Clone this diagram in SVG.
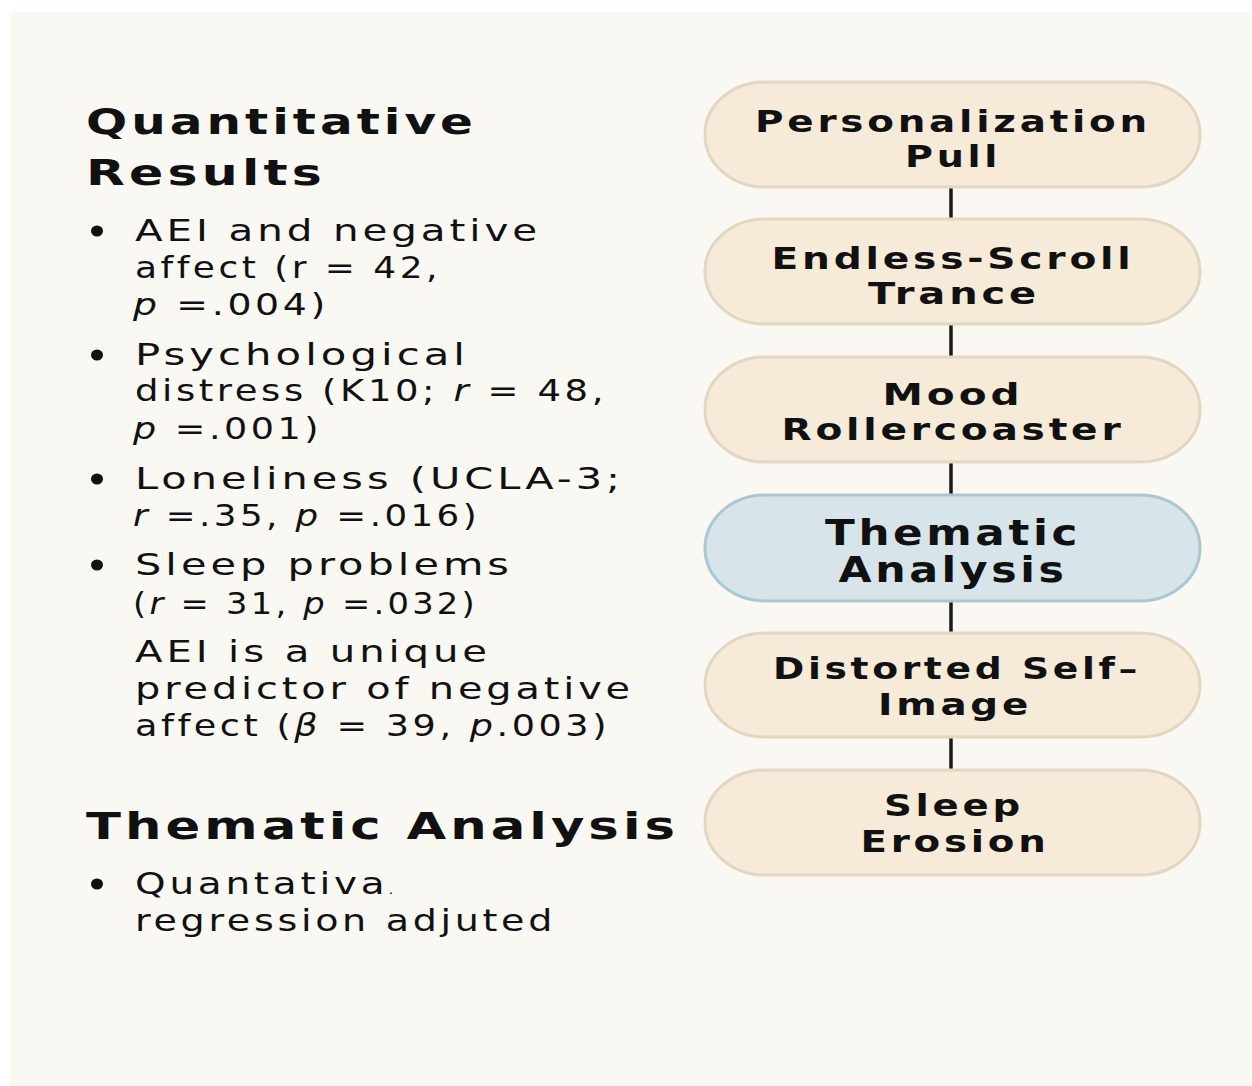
<svg xmlns="http://www.w3.org/2000/svg" width="1252" height="1086" viewBox="0 0 1252 1086">
  <style>
    .h { font-family: "DejaVu Sans", "Liberation Sans", sans-serif; font-weight: 700; font-size: 36px; fill: #111; letter-spacing: 3px; }
    .h2 { font-family: "DejaVu Sans", "Liberation Sans", sans-serif; font-weight: 700; font-size: 38px; fill: #111; letter-spacing: 3px; }
    .b { font-family: "DejaVu Sans", "Liberation Sans", sans-serif; font-size: 31px; fill: #111; letter-spacing: 3px; }
    .i { font-style: italic; }
    .n { font-family: "DejaVu Sans", "Liberation Sans", sans-serif; font-weight: 700; font-size: 31px; fill: #111; text-anchor: middle; letter-spacing: 3px; }
    .nb { font-family: "DejaVu Sans", "Liberation Sans", sans-serif; font-weight: 700; font-size: 36px; fill: #111; text-anchor: middle; letter-spacing: 3px; }
    .pill { fill: #f5ebd8; stroke: #e2d7c0; stroke-width: 3; }
    .pillb { fill: #d7e5eb; stroke: #adc7d2; stroke-width: 3; }
    .dot { fill: #111; }
    .con line { stroke: #1a1a1a; stroke-width: 3.5; }
  </style>
  <rect width="1252" height="1086" fill="#ffffff"/>
  <rect x="10" y="12" width="1240" height="1074" fill="#faf8f3"/>

  <g id="left-text">
    <text class="h" x="86" y="134" textLength="391" lengthAdjust="spacingAndGlyphs">Quantitative</text>
    <text class="h" x="86" y="185" textLength="240" lengthAdjust="spacingAndGlyphs">Results</text>

    <ellipse class="dot" cx="97" cy="231" rx="6" ry="5.5"/>
    <text class="b" x="135" y="241" textLength="406" lengthAdjust="spacingAndGlyphs">AEI and negative</text>
    <text class="b" x="135" y="278" textLength="306" lengthAdjust="spacingAndGlyphs">affect (r = 42,</text>
    <text class="b" x="133" y="315" textLength="196" lengthAdjust="spacingAndGlyphs"><tspan class="i">p</tspan> =.004)</text>

    <ellipse class="dot" cx="97" cy="355" rx="6" ry="5.5"/>
    <text class="b" x="135" y="365" textLength="334" lengthAdjust="spacingAndGlyphs">Psychological</text>
    <text class="b" x="135" y="401" textLength="472" lengthAdjust="spacingAndGlyphs">distress (K10; <tspan class="i">r</tspan> = 48,</text>
    <text class="b" x="133" y="439" textLength="189" lengthAdjust="spacingAndGlyphs"><tspan class="i">p</tspan> =.001)</text>

    <ellipse class="dot" cx="97" cy="479" rx="6" ry="5.5"/>
    <text class="b" x="135" y="489" textLength="489" lengthAdjust="spacingAndGlyphs">Loneliness (UCLA-3;</text>
    <text class="b" x="133" y="526" textLength="347" lengthAdjust="spacingAndGlyphs"><tspan class="i">r</tspan> =.35, <tspan class="i">p</tspan> =.016)</text>

    <ellipse class="dot" cx="97" cy="565" rx="6" ry="5.5"/>
    <text class="b" x="135" y="575" textLength="378" lengthAdjust="spacingAndGlyphs">Sleep problems</text>
    <text class="b" x="133" y="614" textLength="345" lengthAdjust="spacingAndGlyphs">(<tspan class="i">r</tspan> = 31, <tspan class="i">p</tspan> =.032)</text>

    <text class="b" x="135" y="662" textLength="356" lengthAdjust="spacingAndGlyphs">AEI is a unique</text>
    <text class="b" x="135" y="699" textLength="499" lengthAdjust="spacingAndGlyphs">predictor of negative</text>
    <text class="b" x="135" y="736" textLength="475" lengthAdjust="spacingAndGlyphs">affect (<tspan class="i">β</tspan> = 39, <tspan class="i">p</tspan>.003)</text>

    <text class="h2" x="86" y="839" textLength="593" lengthAdjust="spacingAndGlyphs">Thematic Analysis</text>

    <ellipse class="dot" cx="97" cy="884" rx="6" ry="5.5"/>
    <text class="b" x="135" y="894" textLength="262" lengthAdjust="spacingAndGlyphs">Quantativa<tspan font-size="12px">.</tspan></text>
    <text class="b" x="135" y="931" textLength="421" lengthAdjust="spacingAndGlyphs">regression adjuted</text>
  </g>

  <g id="connectors" class="con">
    <line x1="951" y1="187" x2="951" y2="219"/>
    <line x1="951" y1="324" x2="951" y2="357"/>
    <line x1="951" y1="462" x2="951" y2="495"/>
    <line x1="951" y1="601" x2="951" y2="633"/>
    <line x1="951" y1="737" x2="951" y2="770"/>
  </g>

  <g id="node-personalization">
    <rect class="pill" x="705" y="82" width="495" height="105" rx="60" ry="52"/>
    <text class="n" x="953" y="132" textLength="396" lengthAdjust="spacingAndGlyphs">Personalization</text>
    <text class="n" x="953" y="167" textLength="96" lengthAdjust="spacingAndGlyphs">Pull</text>
  </g>
  <g id="node-endless-scroll">
    <rect class="pill" x="705" y="219" width="495" height="105" rx="60" ry="52"/>
    <text class="n" x="953" y="269" textLength="363" lengthAdjust="spacingAndGlyphs">Endless-Scroll</text>
    <text class="n" x="954" y="304" textLength="172" lengthAdjust="spacingAndGlyphs">Trance</text>
  </g>
  <g id="node-mood">
    <rect class="pill" x="705" y="357" width="495" height="105" rx="60" ry="52"/>
    <text class="n" x="953" y="405" textLength="141" lengthAdjust="spacingAndGlyphs">Mood</text>
    <text class="n" x="953" y="440" textLength="343" lengthAdjust="spacingAndGlyphs">Rollercoaster</text>
  </g>
  <g id="node-thematic">
    <rect class="pillb" x="705" y="495" width="495" height="106" rx="60" ry="53"/>
    <text class="nb" x="953" y="545" textLength="256" lengthAdjust="spacingAndGlyphs">Thematic</text>
    <text class="nb" x="953" y="582" textLength="229" lengthAdjust="spacingAndGlyphs">Analysis</text>
  </g>
  <g id="node-distorted">
    <rect class="pill" x="705" y="633" width="495" height="104" rx="60" ry="52"/>
    <text class="n" x="957" y="679" textLength="368" lengthAdjust="spacingAndGlyphs">Distorted Self–</text>
    <text class="n" x="955" y="715" textLength="154" lengthAdjust="spacingAndGlyphs">Image</text>
  </g>
  <g id="node-sleep">
    <rect class="pill" x="705" y="770" width="495" height="105" rx="60" ry="52"/>
    <text class="n" x="954" y="816" textLength="140" lengthAdjust="spacingAndGlyphs">Sleep</text>
    <text class="n" x="955" y="852" textLength="189" lengthAdjust="spacingAndGlyphs">Erosion</text>
  </g>
</svg>
